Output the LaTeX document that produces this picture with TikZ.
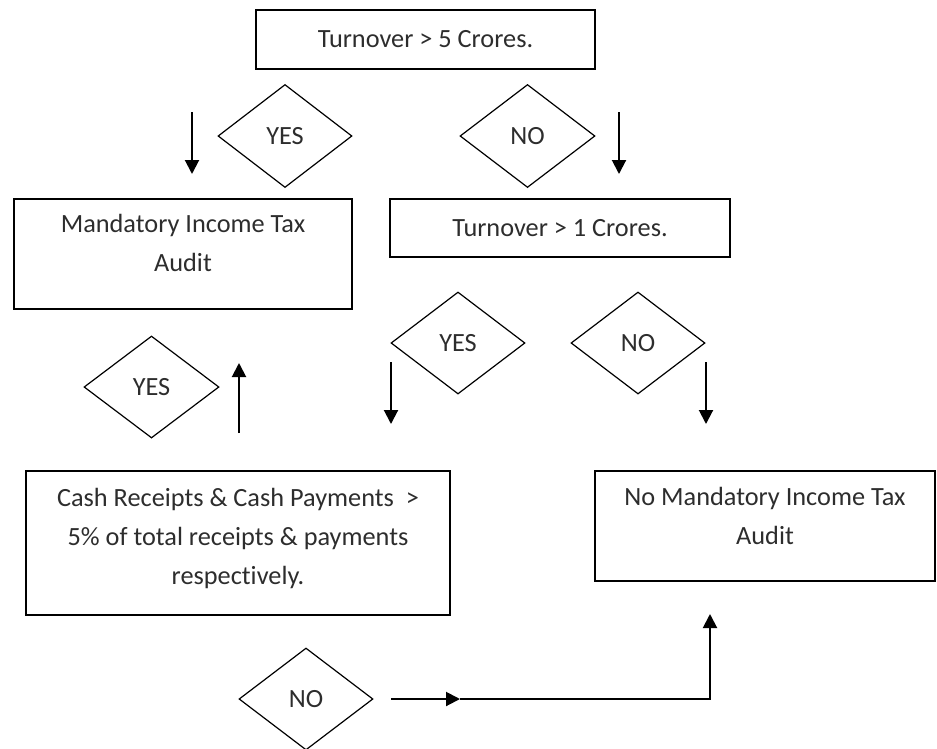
\documentclass[tikz,border=0pt]{standalone}
\usepackage{fontspec}
\setmainfont{Carlito}[Ligatures=NoCommon]
\usetikzlibrary{shapes.geometric,arrows.meta}
\definecolor{textgray}{RGB}{45,45,45}
\tikzset{
  box/.style={draw, line width=1.6pt, rectangle, align=center, inner sep=0pt},
  choice/.style={draw, line width=1.2pt, diamond, inner sep=0pt, minimum width=134pt, minimum height=102pt},
  flow/.style={line width=2pt, -{Triangle[width=14pt,length=14pt]}}
}
\begin{document}
\begin{tikzpicture}[x=1pt, y=-1pt,
    every node/.style={font=\fontsize{26.3}{39}\selectfont, text=textgray}]
  \useasboundingbox (0,0) rectangle (937,748);
  \draw
    (425.5,39.5) node[box, minimum width=339pt, minimum height=59pt] (t5){Turnover > 5 Crores.}
    (285,136) node[choice, minimum height=103pt] (yes1){YES}
    (527.5,136) node[choice, minimum width=135pt, minimum height=103pt] (no1){NO}
    (183,254) node[box, minimum width=338pt, minimum height=110pt, text depth=22pt] (mit){Mandatory Income Tax\\Audit}
    (560,228) node[box, minimum width=339.5pt, minimum height=58pt] (t1){Turnover > 1 Crores.}
    (458,343) node[choice] (yes2){YES}
    (638,343) node[choice] (no2){NO}
    (151.5,387) node[choice, minimum width=135pt] (yes3){YES}
    (238,543) node[box, minimum width=424pt, minimum height=144pt, text depth=14pt] (cash){Cash Receipts \& Cash Payments\ \ >\\5\% of total receipts \& payments\\respectively.}
    (765,526) node[box, minimum width=340pt, minimum height=110pt, text depth=20pt] (nmit){No Mandatory Income Tax\\Audit}
    (306,699) node[choice] (no3){NO};
  \coordinate (yes1a) at (192,112);
  \coordinate (yes1b) at (192,174);
  \coordinate (no1a) at (619,112);
  \coordinate (no1b) at (619,174);
  \coordinate (yes3a) at (239,433);
  \coordinate (yes3b) at (239,363);
  \coordinate (yes2a) at (391,362);
  \coordinate (yes2b) at (391,424);
  \coordinate (no2a) at (706,362);
  \coordinate (no2b) at (706,424);
  \coordinate (no3a) at (391,699);
  \coordinate (no3b) at (460,699);
  \coordinate (no3c) at (710,699);
  \coordinate (no3d) at (710,614);
  \begin{scope}[flow]
    \draw (yes1a) to (yes1b);
    \draw (no1a) to (no1b);
    \draw (yes3a) to (yes3b);
    \draw (yes2a) to (yes2b);
    \draw (no2a) to (no2b);
    \draw (no3a) to (no3b);
    \draw (no3b) -- (no3c) -- (no3d);
  \end{scope}
\end{tikzpicture}
\end{document}
